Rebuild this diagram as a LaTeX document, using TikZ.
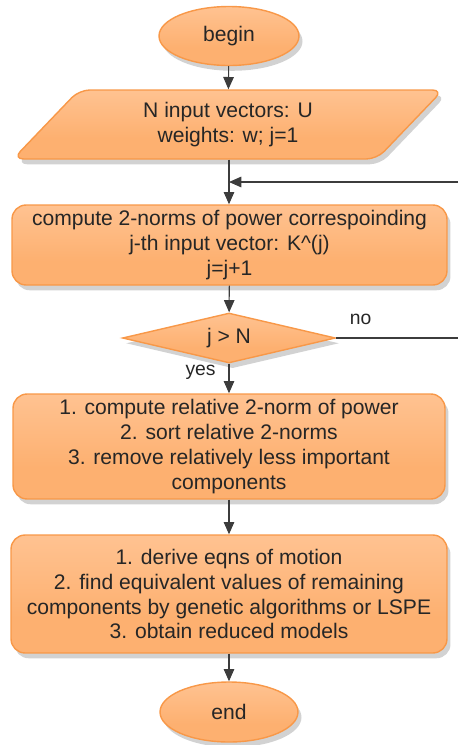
\documentclass[tikz,border=0pt]{standalone}
\usepackage{fontspec}
\setmainfont{Liberation Sans}
\usepackage{tikz}
\usetikzlibrary{shapes.geometric, arrows.meta, positioning, shadows, calc}
\definecolor{flowborder}{RGB}{248,152,72}
\definecolor{flowtop}{RGB}{255,228,206}
\definecolor{flowmid}{RGB}{255,196,148}
\definecolor{flowbottom}{RGB}{253,176,112}
\definecolor{flowtext}{RGB}{38,38,38}
\definecolor{flowline}{RGB}{60,60,60}
\pgfdeclareverticalshading{flowshade}{100bp}{
  color(0bp)=(flowbottom); color(40bp)=(flowbottom); color(78bp)=(flowmid);
  color(92bp)=(flowtop); color(100bp)=(flowtop)
}
\tikzset{
  flowbase/.style={
    draw=flowborder, line width=0.8pt, shading=flowshade,
    text=flowtext, font=\fontsize{12}{14.2}\selectfont, align=center,
    drop shadow={shadow xshift=2pt, shadow yshift=-3pt, opacity=0.25, fill=black!70},
    inner sep=2pt
  },
  terminal/.style={flowbase, ellipse, minimum width=2.8cm, minimum height=1.18cm},
  iobox/.style={
    flowbase, trapezium, trapezium left angle=38, trapezium right angle=142,
    trapezium stretches body, rounded corners=6pt,
    minimum width=8.6cm, minimum height=1.38cm
  },
  procbox/.style={flowbase, rectangle, rounded corners=8pt, minimum width=8.7cm},
  decision/.style={flowbase, diamond, aspect=4.3, minimum width=4.26cm, minimum height=1cm, inner sep=0pt},
  arrow/.style={-{Triangle[length=7pt, width=6pt]}, line width=0.6pt, color=flowline},
  plainline/.style={line width=0.6pt, color=flowline},
  edgelabel/.style={font=\fontsize{11}{13}\selectfont, text=flowtext}
}
\begin{document}
\begin{tikzpicture}[x=0.02cm, y=0.02cm]
  \useasboundingbox (0,0) rectangle (458,-745);

  % ── Nodes ─────────────────────────────────────────────────────────
  \node[terminal] (begin) at (229,-36) {begin};
  \node[iobox] (input) at (228,-124.5)
    {N input vectors: U\\weights: w; j=1};
  \node[procbox, minimum height=1.6cm] (norms) at (229.5,-245)
    {compute 2-norms of power correspoinding\\j-th input vector: K\^{}(j)\\j=j+1};
  \node[decision] (check) at (229,-338) {j > N};
  \node[procbox, minimum height=2.1cm, minimum width=8.64cm] (sortbox) at (229,-446.5)
    {1. compute relative 2-norm of power\\2. sort relative 2-norms\\3. remove relatively less important\\components};
  \node[procbox, minimum height=2.36cm, minimum width=8.72cm] (reduce) at (229,-594)
    {1. derive eqns of motion\\2. find equivalent values of remaining\\components by genetic algorithms or LSPE\\3. obtain reduced models};
  \node[terminal, minimum width=2.76cm, minimum height=1.2cm] (end) at (229,-712) {end};

  % ── Loop coordinates ──────────────────────────────────────────────
  \coordinate (joinpt) at (229,-182);
  \coordinate (loopin) at (458,-182);
  \coordinate (loopout) at (458,-338);

  % ── Connections ───────────────────────────────────────────────────
  \draw[arrow] (begin) -- (input);
  \draw[arrow] (input.south -| joinpt) -- (norms.north -| joinpt);
  \draw[arrow] (loopin) -- (joinpt);
  \draw[arrow] (norms) -- (check);
  \draw[plainline] (check.east) -- (loopout)
    node[edgelabel, pos=0.2, above=4pt] (nolabel) {no};
  \draw[arrow] (check) -- (sortbox)
    node[edgelabel, pos=0.3, left=4pt] (yeslabel) {yes};
  \draw[arrow] (sortbox) -- (reduce);
  \draw[arrow] (reduce) -- (end);
\end{tikzpicture}
\end{document}
